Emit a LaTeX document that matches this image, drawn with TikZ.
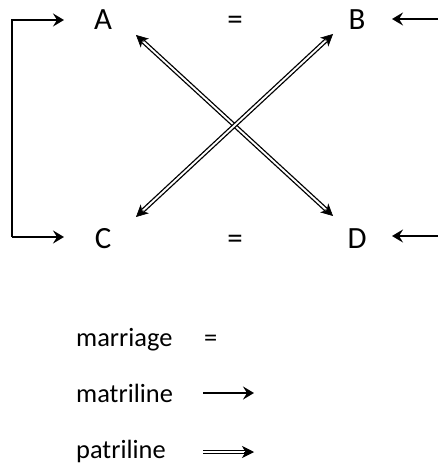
\documentclass[tikz,border=0pt]{standalone}
\usepackage{fontspec}
\setmainfont{Carlito}
\usetikzlibrary{arrows.meta,calc}
\begin{document}
\begin{tikzpicture}[x=1bp,y=-1bp,
  lbl/.style={font=\fontsize{31}{33}\selectfont, inner sep=0pt, anchor=base},
  leg/.style={font=\fontsize{26.5}{28}\selectfont, inner sep=0pt, anchor=base west},
  mat/.style={line width=2bp, -{Stealth[length=11bp,width=13bp,inset=4bp]}},
  dbl/.style={line width=1.3bp, double, double distance=1.9bp},
  head/.style={line width=0.6bp, -{Stealth[length=12bp,width=12bp,inset=3.5bp]}}]
\useasboundingbox (0,0) rectangle (438,465);
\node[lbl] (A) at (103,30) {A};
\node[lbl] (B) at (357,30) {B};
\node[lbl] (C) at (103,248) {C};
\node[lbl] (D) at (357,248) {D};
\node[lbl] (e1) at (235,30) {=};
\node[lbl] (e2) at (235,248) {=};
% left bracket
\coordinate (l1) at (12,20);
\coordinate (l2) at (12,237);
\coordinate (la) at (64,20);
\coordinate (lc) at (64,237);
\draw[mat] (l2) -- (lc);
\draw[mat] (l2) -- (l1) -- (la);
% right arrows
\coordinate (rb) at (438,19);
\coordinate (rbt) at (392,19);
\coordinate (rd) at (438,236);
\coordinate (rdt) at (392,236);
\draw[mat] (rb) -- (rbt);
\draw[mat] (rd) -- (rdt);
% crossing double arrows
\coordinate (a1) at (136,35);
\coordinate (d1) at (333,216);
\coordinate (b1) at (333,34);
\coordinate (c1) at (136,217);
\draw[dbl, shorten <=9bp, shorten >=9bp] (a1) -- (d1);
\draw[dbl, shorten <=9bp, shorten >=9bp] (b1) -- (c1);
\draw[head] ($(a1)!10bp!(d1)$) -- (a1);
\draw[head] ($(d1)!10bp!(a1)$) -- (d1);
\draw[head] ($(b1)!10bp!(c1)$) -- (b1);
\draw[head] ($(c1)!10bp!(b1)$) -- (c1);
% legend
\node[leg] (m1) at (76,346) {marriage};
\node[leg] (m2) at (204,346) {=};
\node[leg] (t1) at (76,402) {matriline};
\node[leg] (t2) at (76,458) {patriline};
\coordinate (ma) at (203,393);
\coordinate (mb) at (254,393);
\coordinate (pa) at (203,452);
\coordinate (pb) at (254,452);
\draw[mat] (ma) -- (mb);
\draw[dbl, shorten >=9bp] (pa) -- (pb);
\draw[head] ($(pb)!10bp!(pa)$) -- (pb);
\end{tikzpicture}
\end{document}
